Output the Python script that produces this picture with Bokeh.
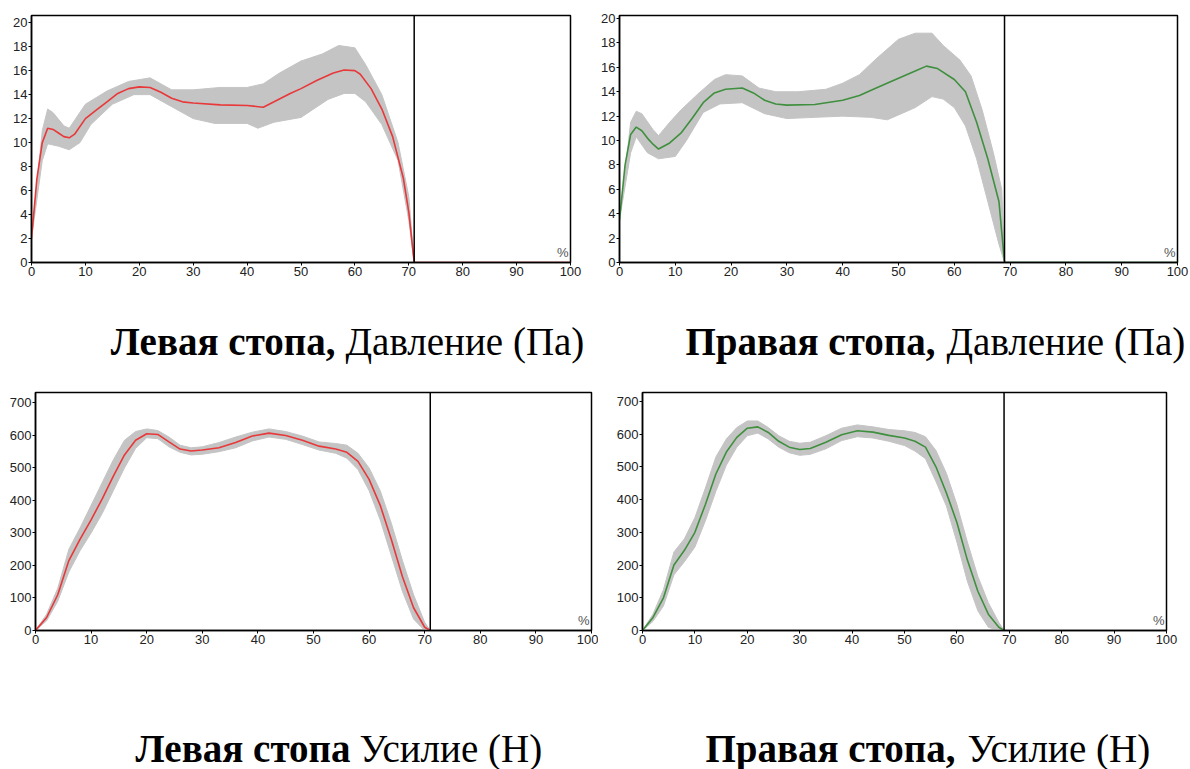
from bokeh.plotting import figure
from bokeh.models import Range1d, Span, Label, FixedTicker
from bokeh.layouts import column, row
from bokeh.core.properties import value
from bokeh.embed import file_html
from bokeh.resources import INLINE

# ---------------- data ----------------
x_ticks = [0, 10, 20, 30, 40, 50, 60, 70, 80, 90, 100]
p_ticks = [0, 2, 4, 6, 8, 10, 12, 14, 16, 18, 20]
f_ticks = [0, 100, 200, 300, 400, 500, 600, 700]

# Left foot, pressure (red)
lp_x = [0, 1, 2, 3, 4, 5, 6, 7, 8, 10, 12, 14, 16, 18, 20, 22, 24, 26, 28, 30, 35, 40, 43, 45, 48, 50, 53, 56, 58, 60, 61, 63, 65, 67, 69, 70, 71, 100]
lp_mean = [2, 7, 10, 11.2, 11.1, 10.8, 10.5, 10.4, 10.7, 12.0, 12.7, 13.4, 14.1, 14.5, 14.65, 14.6, 14.2, 13.7, 13.4, 13.3, 13.15, 13.1, 12.95, 13.4, 14.1, 14.5, 15.2, 15.8, 16.05, 16.0, 15.7, 14.5, 12.8, 10.5, 7, 4.2, 0, 0]
lp_hi_x = [0, 2, 3, 4, 6, 7, 10, 14, 18, 22, 26, 30, 35, 40, 43, 46, 50, 54, 57, 60, 62, 65, 68, 70, 71]
lp_hi = [2, 11, 12.8, 12.5, 11.4, 11.2, 13.2, 14.3, 15.1, 15.4, 14.4, 14.4, 14.6, 14.6, 14.9, 15.8, 16.8, 17.4, 18.1, 17.9, 16.5, 14, 10, 5.5, 0]
lp_lo_x = [0, 2, 3, 5, 7, 9, 11, 15, 19, 22, 26, 30, 34, 40, 42, 45, 50, 55, 58, 60, 62, 65, 68, 70, 71]
lp_lo = [2, 8.5, 9.9, 9.7, 9.4, 10, 11.5, 13.2, 14.0, 14.0, 13.0, 12.0, 11.6, 11.6, 11.2, 11.7, 12.1, 13.6, 14.1, 14.1, 13.4, 11.5, 8.5, 3.5, 0]

# Right foot, pressure (green)
rp_x = [0, 1, 2, 3, 4, 5, 6, 7, 9, 11, 13, 15, 17, 19, 22, 24, 26, 28, 30, 35, 40, 43, 46, 50, 53, 55, 57, 60, 62, 64, 66, 68, 69, 100]
rp_mean = [3.5, 8, 10.5, 11.1, 10.8, 10.2, 9.7, 9.3, 9.8, 10.6, 11.8, 13.1, 13.9, 14.2, 14.3, 13.9, 13.3, 13.0, 12.9, 12.95, 13.3, 13.7, 14.3, 15.1, 15.7, 16.1, 15.9, 15.0, 14.0, 11.5, 8.5, 5, 0, 0]
rp_hi_x = [0, 2, 3, 4, 6, 7, 9, 11, 14, 17, 19, 22, 25, 28, 32, 37, 40, 43, 46, 50, 53, 56, 58, 61, 63, 65, 67, 68.5, 69]
rp_hi = [3.5, 11.5, 12.4, 12.2, 10.9, 10.4, 11.5, 12.5, 13.8, 15.0, 15.4, 15.3, 14.3, 14.0, 14.0, 14.2, 14.7, 15.4, 16.7, 18.3, 18.8, 18.8, 17.8, 16.6, 15.3, 12.5, 9, 6, 0]
rp_lo_x = [0, 2, 3, 5, 7, 10, 12, 15, 18, 22, 26, 30, 35, 40, 45, 48, 50, 53, 56, 58, 60, 62, 64, 66, 68, 69]
rp_lo = [3.5, 9, 10.3, 9.0, 8.5, 8.7, 10, 12.3, 13.0, 13.1, 12.2, 11.8, 11.9, 12.0, 11.9, 11.7, 12.1, 12.7, 13.6, 13.4, 12.7, 11.2, 8.5, 5, 1.5, 0]

# Left foot, force (red)
lf_x = [0, 2, 4, 6, 8, 10, 12, 14, 16, 18, 20, 22, 24, 26, 28, 30, 33, 36, 39, 42, 45, 48, 51, 54, 56, 58, 60, 62, 64, 66, 68, 70, 71]
lf_mean = [0, 40, 110, 215, 280, 340, 405, 475, 540, 585, 605, 603, 580, 558, 552, 555, 562, 578, 598, 607, 600, 585, 567, 558, 548, 520, 465, 385, 280, 165, 70, 10, 0]
lf_hi = [0, 50, 130, 250, 315, 385, 455, 525, 585, 612, 620, 615, 595, 570, 562, 565, 578, 595, 610, 620, 612, 598, 580, 575, 570, 545, 500, 430, 330, 215, 110, 25, 0]
lf_lo = [0, 30, 90, 180, 245, 300, 360, 430, 500, 560, 593, 590, 565, 548, 540, 542, 550, 562, 583, 595, 588, 572, 555, 545, 530, 495, 430, 340, 230, 120, 35, 0, 0]

# Right foot, force (green)
rf_x = [0, 2, 4, 6, 8, 10, 12, 14, 16, 18, 20, 22, 24, 26, 28, 30, 32, 35, 38, 41, 44, 47, 50, 52, 54, 56, 58, 60, 62, 64, 66, 68, 69]
rf_mean = [0, 40, 100, 200, 245, 300, 385, 478, 545, 590, 618, 622, 605, 578, 560, 553, 556, 575, 598, 610, 606, 596, 588, 578, 560, 500, 420, 330, 215, 120, 50, 10, 0]
rf_hi = [0, 50, 125, 240, 280, 345, 435, 530, 585, 620, 640, 640, 620, 595, 578, 572, 575, 595, 618, 628, 622, 614, 610, 605, 592, 550, 480, 385, 270, 165, 85, 25, 0]
rf_lo = [0, 28, 75, 170, 210, 255, 335, 425, 505, 560, 595, 603, 585, 560, 543, 535, 538, 555, 580, 592, 588, 578, 565, 548, 525, 455, 380, 270, 150, 60, 10, 0, 0]

stance_end = [71, 69, 71, 69]
captions_bold = ["Левая стопа,", "Правая стопа,", "Левая стопа", "Правая стопа,"]
captions_reg = ["Давление (Па)", "Давление (Па)", "Усилие (Н)", "Усилие (Н)"]

RED = "#e8383a"
GREEN = "#3f8f3f"
BAND = "#c4c4c4"
SERIF = "Liberation Serif"
CAP_SIZE = "39px"


def panel(width, height, borders, ymax, yticks, mx, my, hx, hy, lx, ly, color, vline):
    left, right, top, bottom = borders
    p = figure(width=width, height=height, output_backend="svg", toolbar_location=None,
               x_range=Range1d(0, 100), y_range=Range1d(0, ymax),
               min_border_left=left, min_border_right=right,
               min_border_top=top, min_border_bottom=bottom)
    p.xgrid.visible = False
    p.ygrid.visible = False
    p.outline_line_color = "black"
    p.outline_line_width = 1.5
    p.outline_line_alpha = 1
    for ax in (p.xaxis[0], p.yaxis[0]):
        ax.axis_line_color = "black"
        ax.axis_line_width = 1.5
        ax.major_tick_line_color = "black"
        ax.major_tick_out = 3
        ax.major_tick_in = 0
        ax.minor_tick_line_color = None
        ax.major_label_text_font = "Liberation Sans"
        ax.major_label_text_font_size = "13px"
        ax.major_label_text_color = "#222222"
        ax.major_label_standoff = 1
    p.xaxis.ticker = FixedTicker(ticks=x_ticks)
    p.yaxis.ticker = FixedTicker(ticks=yticks)

    bx = list(hx) + list(reversed(lx))
    by = list(hy) + list(reversed(ly))
    p.patch(bx, by, fill_color=BAND, line_color=BAND, line_width=1)
    p.line(mx, my, line_color=color, line_width=1.6)
    p.add_layout(Span(location=vline, dimension="height", line_color="black", line_width=1.5))
    p.add_layout(Label(x=100, y=0, x_offset=-2, y_offset=3, text="%", text_font="Liberation Sans",
                       text_font_size="13px", text_color="#555555", text_align="right",
                       text_baseline="bottom"))
    return p


def caption(width, height, bold, reg, split_bold, split_reg, mid):
    c = figure(width=width, height=height, output_backend="svg", toolbar_location=None,
               title=None, x_range=Range1d(0, width), y_range=Range1d(0, height),
               min_border=0, min_border_left=0, min_border_right=0,
               min_border_top=0, min_border_bottom=0)
    c.axis.visible = False
    c.xgrid.visible = False
    c.ygrid.visible = False
    c.outline_line_color = None
    c.text(x=[split_bold], y=[mid], text=[bold], text_font=value(SERIF),
           text_font_style="bold", text_font_size=CAP_SIZE, text_color="black",
           text_align="right", text_baseline="middle")
    c.text(x=[split_reg], y=[mid], text=[reg], text_font=value(SERIF),
           text_font_style="normal", text_font_size=CAP_SIZE, text_color="black",
           text_align="left", text_baseline="middle")
    return c


p1 = panel(598, 291, (31, 28, 15, 28), 20.6, p_ticks, lp_x, lp_mean, lp_hi_x, lp_hi, lp_lo_x, lp_lo,
           RED, stance_end[0])
p2 = panel(592, 291, (20, 13, 15, 29), 20.25, p_ticks, rp_x, rp_mean, rp_hi_x, rp_hi, rp_lo_x, rp_lo,
           GREEN, stance_end[1])
p3 = panel(598, 285, (35, 7, 12, 25), 732, f_ticks, lf_x, lf_mean, lf_x, lf_hi, lf_x, lf_lo,
           RED, stance_end[2])
p4 = panel(592, 285, (44, 24, 12, 35), 727, f_ticks, rf_x, rf_mean, rf_x, rf_hi, rf_x, rf_lo,
           GREEN, stance_end[3])

c1 = caption(598, 89, captions_bold[0], captions_reg[0], 335, 345, 39)
c2 = caption(592, 89, captions_bold[1], captions_reg[1], 337, 348, 39)
c3 = caption(598, 104, captions_bold[2], captions_reg[2], 350, 359, 21)
c4 = caption(592, 104, captions_bold[3], captions_reg[3], 357, 369, 21)

layout = column(row(p1, p2), row(c1, c2), row(p3, p4), row(c3, c4))
open("out.html", "w").write(file_html(layout, INLINE))
